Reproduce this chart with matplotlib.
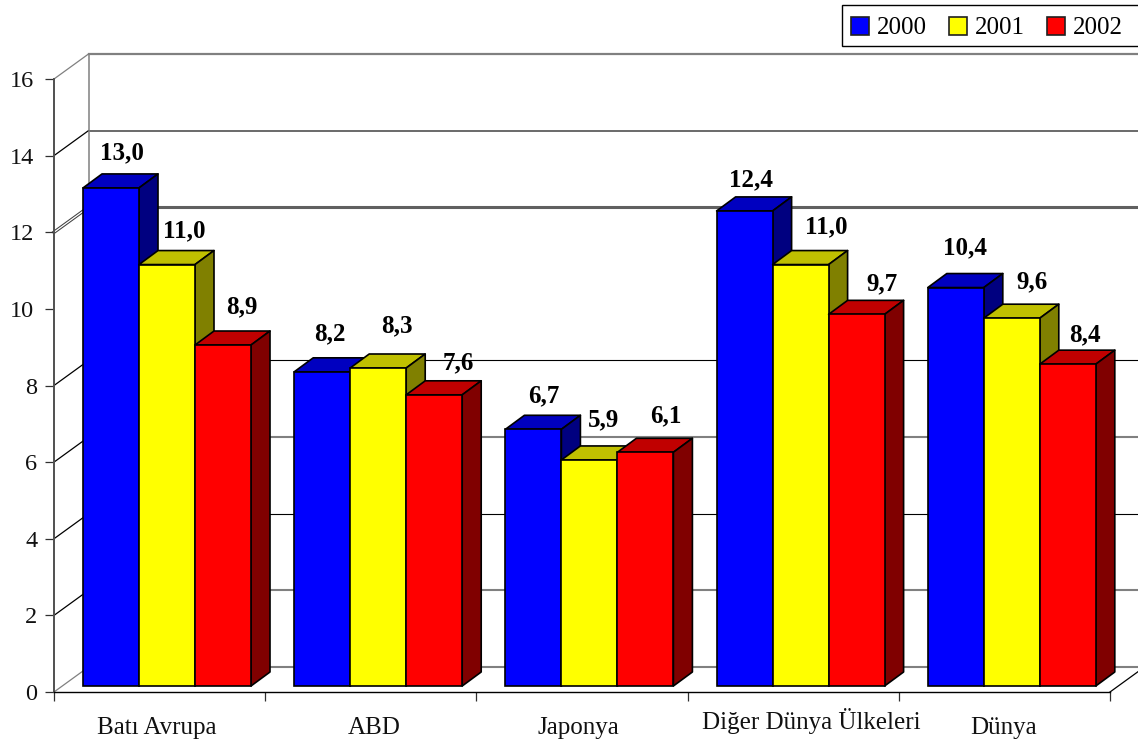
import matplotlib
matplotlib.use("Agg")
import matplotlib.pyplot as plt
from matplotlib.patches import Polygon, Patch, Rectangle

categories = ["Batı Avrupa", "ABD", "Japonya", "Diğer Dünya Ülkeleri", "Dünya"]
years = ["2000", "2001", "2002"]
values_2000 = [13.0, 8.2, 6.7, 12.4, 10.4]
values_2001 = [11.0, 8.3, 5.9, 11.0, 9.6]
values_2002 = [8.9, 7.6, 6.1, 9.7, 8.4]
y_ticks = [0, 2, 4, 6, 8, 10, 12, 14, 16]

# front, top and side shades of each series
front_colors = ["#0000ff", "#ffff00", "#ff0000"]
top_colors = ["#0000c0", "#c0c000", "#c00000"]
side_colors = ["#000080", "#808000", "#800000"]

# pixel nudges for the value labels, one row per series
label_dx = [[1, -2, 1, -3, 0], [8, 9, 5, 16, 11], [9, 15, 11, 16, 8]]
label_dy = [[35, 38, 33, 31, 40], [34, 42, 40, 38, 36], [38, 32, 36, 31, 29]]
# nudges for the category labels
cat_dx = [-3, 3, -4, 18, -1]
cat_dy = [-36, -36, -36, -29, -36]

# gridline colour and width per level, None where no line is drawn
grid_style = {0: ("#808080", 1.5), 2: ("#808080", 1.5), 4: ("black", 0.8), 6: ("#808080", 1.5),
              8: ("black", 0.8), 10: None, 12: ("#606060", 2.2), 14: ("#505050", 1.2), 16: ("#808080", 1.6)}

WIDTH, HEIGHT = 1138, 742
PX_PER_CAT = 211.2
PX_PER_UNIT = 38.3

# depth of the chart box and of the bars, in axis units
wall_dx, wall_dy = 34.5 / PX_PER_CAT, 25 / PX_PER_UNIT
bar_dx, bar_dy = 19 / PX_PER_CAT, 14 / PX_PER_UNIT
bar_width = 56 / PX_PER_CAT
bar_start = 29 / PX_PER_CAT
floor_y = 6 / PX_PER_UNIT

plt.rcParams["font.family"] = "Liberation Serif"

fig = plt.figure(figsize=(WIDTH / 100, HEIGHT / 100), dpi=100)
ax = fig.add_axes([54 / WIDTH, 50 / HEIGHT, 1056 / WIDTH, 613 / HEIGHT])
ax.set_xlim(0, 5)
ax.set_ylim(0, 16)
ax.patch.set_visible(False)

# Axis lines and ticks
ax.spines["top"].set_visible(False)
ax.spines["right"].set_visible(False)
ax.spines["left"].set_color("#505050")
ax.spines["bottom"].set_color("black")
ax.spines["left"].set_linewidth(1.4)
ax.spines["bottom"].set_linewidth(1.0)
ax.set_xticks(range(6))
ax.set_xticklabels([])
ax.set_yticks(y_ticks)
ax.tick_params(axis="both", length=6.5, width=0.9, color="#303030")
ax.tick_params(axis="y", labelsize=17.5, labelcolor="#111111")
for v, tick in zip(y_ticks, ax.yaxis.get_major_ticks()):
    tick.set_pad(8 if v >= 10 else 5.5)

# Back wall gridlines and the lines running along the side wall
for v in y_ticks:
    style = grid_style[v]
    if style is None:
        continue
    ax.plot([wall_dx, 5.3], [v + wall_dy, v + wall_dy], color=style[0], lw=style[1], clip_on=False, zorder=1)
    if v == 12:
        ax.plot([0, wall_dx], [v, v + wall_dy], color="#404040", lw=2.4, clip_on=False, zorder=1)
        ax.plot([0, wall_dx], [v, v + wall_dy], color="white", lw=0.9, clip_on=False, zorder=1)
    else:
        side_color = "#808080" if v in (0, 16) else "black"
        ax.plot([0, wall_dx], [v, v + wall_dy], color=side_color, lw=0.9, clip_on=False, zorder=1)
ax.plot([wall_dx, wall_dx], [wall_dy, 16 + wall_dy], color="#808080", lw=1.1, clip_on=False, zorder=1)

# Right edge of the floor
ax.plot([5, 5 + wall_dx], [0, wall_dy], color="black", lw=0.9, clip_on=False, zorder=1)

# Bars, drawn left to right so each front hides its neighbour's side
series = [values_2000, values_2001, values_2002]
for c in range(len(categories)):
    for s, vals in enumerate(series):
        x0 = c + bar_start + s * bar_width
        x1 = x0 + bar_width
        top = floor_y + vals[c]
        z = 3 + c + s * 0.1
        ax.bar(x0, vals[c], width=bar_width, bottom=floor_y, align="edge", color=front_colors[s],
               edgecolor="black", linewidth=1.2, zorder=z + 0.05, clip_on=False)
        ax.add_patch(Polygon([(x0, top), (x1, top), (x1 + bar_dx, top + bar_dy), (x0 + bar_dx, top + bar_dy)],
                             facecolor=top_colors[s], edgecolor="black", linewidth=1.2, joinstyle="round",
                             zorder=z, clip_on=False))
        ax.add_patch(Polygon([(x1, floor_y), (x1 + bar_dx, floor_y + bar_dy), (x1 + bar_dx, top + bar_dy), (x1, top)],
                             facecolor=side_colors[s], edgecolor="black", linewidth=1.2, joinstyle="round",
                             zorder=z, clip_on=False))
        # Value label with a decimal comma
        ax.annotate(f"{vals[c]:.1f}".replace(".", ","), (x0 + bar_width / 2 + bar_dx / 2, top),
                    xytext=(label_dx[s][c] * 0.72, label_dy[s][c] * 0.72), textcoords="offset points",
                    ha="center", va="center", fontsize=18, fontweight="bold", color="black", zorder=20)

# Category labels
for c, name in enumerate(categories):
    ax.annotate(name, (c + 0.5, 0), xytext=(cat_dx[c] * 0.72, cat_dy[c] * 0.72), textcoords="offset points",
                ha="center", va="center", fontsize=18, color="#111111", annotation_clip=False)

# Legend box in the top right corner, running off the edge of the figure
fig.add_artist(Rectangle((842 / WIDTH, 1 - 46 / HEIGHT), 300 / WIDTH, 41 / HEIGHT, transform=fig.transFigure,
                         facecolor="white", edgecolor="black", linewidth=1.0))
handles = [Patch(facecolor=front_colors[i], edgecolor="#202020", linewidth=1.2, label=years[i]) for i in range(3)]
fig.legend(handles=handles, loc="center left", bbox_to_anchor=(851 / WIDTH, 1 - 28 / HEIGHT), ncols=3,
           fontsize=18, frameon=False, handlelength=0.72, handleheight=0.72, handletextpad=0.3,
           columnspacing=0.9, borderpad=0, borderaxespad=0)

fig.savefig("out.png", dpi=100)
